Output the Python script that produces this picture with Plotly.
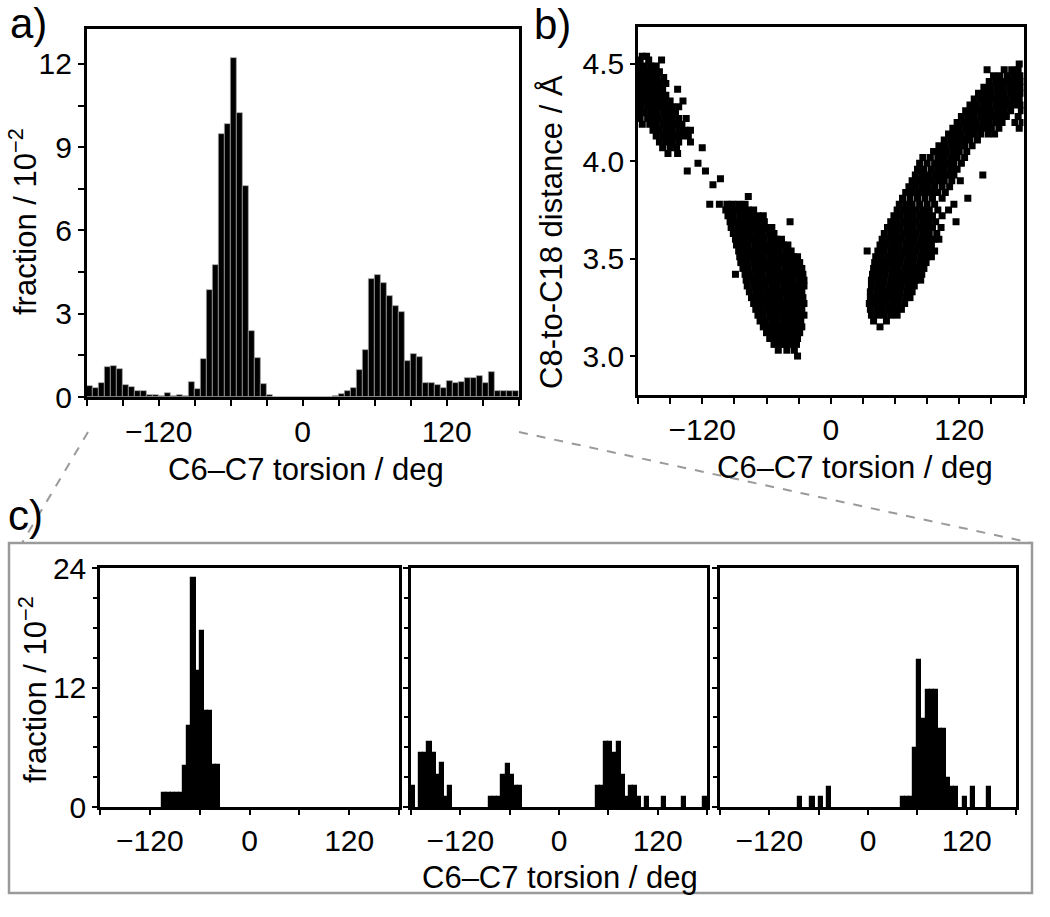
import plotly.graph_objects as go

W, H = 1050, 917
FONT = "Liberation Sans"

# ---------------- Panel a: histogram (5-degree bins) ----------------
a_bin_starts = [-180, -175, -170, -165, -160, -155, -150, -145, -140, -135, -130, -125,
                -120, -115, -110, -105, -100, -95, -90, -85, -80, -75, -70, -65,
                -60, -55, -50, -45, -40, -35, -30, -25, -20, -15, -10, -5,
                0, 5, 10, 15, 20, 25, 30, 35, 40, 45, 50, 55,
                60, 65, 70, 75, 80, 85, 90, 95, 100, 105, 110, 115,
                120, 125, 130, 135, 140, 145, 150, 155, 160, 165, 170, 175]
a_values = [0.40, 0.32, 0.50, 1.08, 1.10, 1.00, 0.45, 0.36, 0.22, 0.20, 0.06, 0.08,
            0.04, 0.14, 0.05, 0.08, 0.02, 0.55, 0.30, 1.36, 3.84, 4.74, 9.47, 9.85,
            12.23, 10.23, 7.60, 2.37, 1.42, 0.46, 0.08, 0.01, 0.0, 0.0, 0.0, 0.0,
            0.0, 0.0, 0.0, 0.0, 0.01, 0.03, 0.10, 0.23, 0.34, 0.97, 1.69, 4.24,
            4.38, 4.10, 3.65, 3.28, 3.07, 1.30, 1.54, 1.43, 0.49, 0.49, 0.45, 0.34,
            0.56, 0.49, 0.53, 0.68, 0.68, 0.74, 0.52, 0.89, 0.21, 0.21, 0.21, 0.21]

# ---------------- Panel b: scatter (distance rows, torsion values) ----------------
cloud_A = [
    (4.54, [-176, -172]),
    (4.52, [-178, -170, -158]),
    (4.49, [-179, -174, -168, -163]),
    (4.46, [-180, -175, -170, -165, -160]),
    (4.43, [-178, -173, -168, -162, -156]),
    (4.40, [-180, -175, -170, -165, -160, -154]),
    (4.37, [-178, -173, -167, -162, -157, -143]),
    (4.34, [-180, -175, -170, -164, -159, -154]),
    (4.31, [-179, -173, -167, -161, -156, -150, -138]),
    (4.28, [-177, -171, -165, -159, -153, -148, -142]),
    (4.25, [-179, -174, -168, -162, -156, -150, -145]),
    (4.22, [-178, -171, -165, -160, -154, -148, -142, -135]),
    (4.19, [-176, -169, -163, -157, -151, -145, -139]),
    (4.16, [-166, -160, -154, -148, -142, -136, -131]),
    (4.13, [-163, -157, -151, -145, -139, -133]),
    (4.10, [-160, -154, -148, -142, -131]),
    (4.07, [-157, -150, -144, -120]),
    (4.04, [-152, -143]),
    (3.99, [-124]),
    (3.95, [-134, -117]),
    (3.91, [-103]),
    (3.88, [-110]),
    (3.82, [-77]),
    (3.78, [-113, -104]),
]
cloud_B = [
    (3.78, [-97, -92, -86, -80]),
    (3.75, [-98, -93, -88, -83, -77, -72]),
    (3.72, [-96, -91, -85, -80, -74, -68, -63]),
    (3.69, [-94, -89, -84, -78, -73, -67, -62, -38]),
    (3.66, [-93, -87, -82, -76, -71, -65, -60, -55]),
    (3.63, [-91, -86, -80, -75, -69, -64, -58, -53]),
    (3.60, [-89, -84, -78, -73, -67, -62, -56, -51, -46]),
    (3.57, [-88, -82, -77, -71, -66, -60, -55, -49, -44, -40]),
    (3.54, [-86, -81, -75, -70, -64, -59, -53, -48, -42, -37]),
    (3.51, [-85, -79, -74, -68, -63, -57, -52, -46, -41, -35, -31]),
    (3.48, [-84, -78, -72, -67, -61, -56, -50, -45, -39, -34, -29]),
    (3.45, [-82, -77, -71, -65, -60, -54, -49, -43, -38, -32, -27]),
    (3.42, [-89, -80, -75, -69, -64, -58, -53, -47, -42, -36, -31, -26]),
    (3.39, [-79, -73, -68, -62, -57, -51, -46, -40, -35, -29, -25]),
    (3.36, [-78, -72, -66, -61, -55, -50, -44, -39, -33, -28, -25]),
    (3.33, [-76, -70, -65, -59, -54, -48, -43, -37, -32, -27]),
    (3.30, [-74, -69, -63, -58, -52, -47, -41, -36, -31, -26]),
    (3.27, [-72, -67, -61, -56, -50, -45, -39, -34, -29, -25]),
    (3.24, [-70, -65, -59, -54, -48, -43, -37, -32, -27]),
    (3.21, [-68, -63, -57, -52, -46, -41, -35, -30, -25]),
    (3.18, [-66, -61, -55, -50, -44, -39, -33, -28]),
    (3.15, [-63, -58, -53, -47, -42, -36, -31, -27]),
    (3.12, [-60, -55, -49, -44, -38, -33, -29]),
    (3.09, [-57, -52, -46, -41, -36, -31]),
    (3.06, [-53, -47, -42, -37, -32]),
    (3.03, [-49, -41, -34]),
    (3.00, [-31]),
]
cloud_C = [
    (3.15, [46]),
    (3.18, [40, 52]),
    (3.21, [38, 44, 50, 56, 62]),
    (3.24, [37, 43, 48, 54, 60, 66]),
    (3.27, [36, 41, 47, 52, 58, 63, 69]),
    (3.30, [37, 42, 48, 53, 59, 64, 70, 74]),
    (3.33, [37, 43, 49, 54, 60, 65, 71, 76]),
    (3.36, [38, 44, 49, 55, 61, 66, 72, 78]),
    (3.39, [38, 44, 50, 56, 62, 67, 73, 79, 84]),
    (3.42, [39, 45, 51, 57, 63, 68, 74, 80, 85]),
    (3.45, [40, 46, 52, 58, 63, 69, 75, 81, 87]),
    (3.48, [41, 47, 53, 59, 65, 71, 77, 83, 89]),
    (3.51, [42, 48, 54, 60, 66, 72, 78, 84, 90, 94]),
    (3.54, [34, 44, 50, 56, 62, 68, 74, 80, 86, 92, 97]),
    (3.57, [46, 52, 58, 64, 70, 76, 82, 88, 94]),
    (3.60, [48, 54, 60, 66, 72, 78, 84, 90, 96, 101]),
    (3.63, [50, 56, 62, 68, 74, 80, 86, 92, 99]),
    (3.66, [53, 59, 65, 71, 77, 83, 89, 95, 103]),
    (3.69, [56, 62, 68, 74, 80, 86, 92, 98, 117]),
    (3.72, [59, 65, 71, 77, 83, 89, 95, 104]),
    (3.75, [62, 68, 74, 80, 86, 92, 100, 110]),
    (3.78, [64, 70, 76, 83, 90, 97, 115]),
    (3.81, [67, 74, 81, 88, 95, 104, 128]),
    (3.84, [70, 76, 82, 88, 94, 100, 107]),
    (3.87, [73, 79, 85, 91, 97, 104, 111]),
    (3.90, [76, 82, 88, 94, 100, 106, 113, 121]),
    (3.93, [79, 85, 91, 97, 103, 109, 115, 142]),
    (3.96, [81, 87, 94, 100, 106, 112, 118]),
    (3.99, [83, 90, 97, 103, 109, 115, 122]),
    (4.02, [86, 93, 100, 106, 112, 118, 125]),
    (4.05, [96, 102, 108, 114, 120, 127]),
    (4.08, [101, 107, 113, 119, 125, 132]),
    (4.11, [106, 112, 118, 124, 130, 137]),
    (4.14, [110, 116, 122, 128, 134, 140, 147, 153]),
    (4.17, [114, 120, 126, 132, 138, 144, 150, 157, 176]),
    (4.20, [118, 124, 130, 136, 142, 148, 154, 160, 172, 179]),
    (4.23, [122, 128, 134, 140, 146, 152, 158, 164, 175]),
    (4.26, [126, 132, 138, 144, 150, 156, 162, 168, 178]),
    (4.29, [130, 136, 142, 148, 154, 160, 166, 172, 178]),
    (4.32, [134, 140, 146, 152, 158, 164, 170, 176]),
    (4.35, [138, 144, 150, 156, 162, 168, 174, 179]),
    (4.38, [143, 149, 155, 161, 167, 173, 178]),
    (4.41, [148, 154, 160, 166, 172, 178]),
    (4.44, [152, 158, 165, 171, 177]),
    (4.47, [146, 162, 169, 175]),
    (4.50, [176]),
]

# ---------------- Panel c: three histograms (bin start, value) ----------------
c1_starts = [-105, -100, -95, -90, -85, -80, -75, -70, -65, -60, -55, -50, -45, -40]
c1_values = [1.4, 1.4, 1.4, 1.4, 1.4, 4.1, 8.1, 23.0, 13.7, 17.7, 9.6, 9.6, 4.2, 4.2]

c2_starts = [-180, -170, -165, -160, -155, -150, -145, -140, -135,
             -85, -80, -75, -70, -65, -60, -55, -50,
             45, 50, 55, 60, 65, 70, 75, 80, 85, 90, 95, 105, 125, 150, 175]
c2_values = [2.1, 5.4, 5.4, 6.5, 5.4, 3.2, 4.4, 1.0, 2.1,
             1.0, 1.0, 1.0, 3.2, 4.3, 3.2, 2.1, 2.1,
             2.1, 2.1, 6.5, 6.5, 5.4, 6.5, 3.2, 1.0, 2.1, 2.1, 1.0, 1.0, 1.0, 1.0, 1.0]

c3_starts = [-85, -70, -60, -50, 40, 45, 50, 55, 60, 65, 70, 75, 80, 85, 90,
             95, 100, 105, 115, 125, 145]
c3_values = [1.0, 1.0, 1.0, 2.0, 1.0, 1.0, 1.0, 5.9, 14.8, 8.8, 11.7, 11.7, 11.7, 7.85, 7.85,
             2.9, 2.0, 2.0, 1.0, 2.0, 2.0]

BIN = 5

def px_x(p):
    return p / W

def px_y(p):
    return 1 - p / H

def flatten(rows):
    xs, ys = [], []
    for yv, xl in rows:
        for xv in xl:
            xs.append(xv)
            ys.append(yv)
    return xs, ys

fig = go.Figure()

fig.add_trace(go.Bar(
    x=[s + BIN / 2 for s in a_bin_starts], y=a_values, width=BIN,
    marker=dict(color="black", line=dict(color="#a8a8a8", width=0.7)),
    xaxis="x", yaxis="y", hoverinfo="skip"))

for rows in (cloud_A, cloud_B, cloud_C):
    sx, sy = flatten(rows)
    fig.add_trace(go.Scatter(
        x=sx, y=sy, mode="markers",
        marker=dict(symbol="square", size=7, color="black", line=dict(width=0)),
        xaxis="x2", yaxis="y2", hoverinfo="skip"))

for i, (st, vals) in enumerate([(c1_starts, c1_values), (c2_starts, c2_values), (c3_starts, c3_values)]):
    fig.add_trace(go.Bar(
        x=[s + BIN / 2 for s in st], y=vals, width=BIN,
        marker=dict(color="black", line=dict(color="black", width=1.2)),
        xaxis="x%d" % (i + 3), yaxis="y%d" % (i + 3), hoverinfo="skip"))

tickfont = dict(family=FONT, size=30, color="black")

def axis(**kw):
    d = dict(showline=True, linecolor="black", linewidth=2.5, mirror=True,
             ticks="outside", ticklen=6, tickwidth=2, tickcolor="black",
             showgrid=False, zeroline=False, tickfont=tickfont, fixedrange=True,
             automargin=False)
    d.update(kw)
    return d

minor_a_x = dict(dtick=30, tick0=0, ticks="outside", ticklen=6, tickwidth=2, tickcolor="black", showgrid=False)

layout = dict(
    width=W, height=H, margin=dict(l=0, r=0, t=0, b=0, pad=0, autoexpand=False),
    paper_bgcolor="white", plot_bgcolor="white", showlegend=False,
    barmode="overlay", bargap=0,
    font=dict(family=FONT, color="black"),
    xaxis=axis(domain=[px_x(86.7), px_x(518.7)], range=[-180, 180], dtick=120, tick0=0,
               minor=minor_a_x, anchor="y"),
    yaxis=axis(domain=[px_y(397), px_y(29)], range=[0, 13.26], dtick=3, tick0=0,
               minor=dict(dtick=1.5, tick0=0, ticks="outside", ticklen=6, tickwidth=2,
                          tickcolor="black", showgrid=False), anchor="x"),
    xaxis2=axis(domain=[px_x(638), px_x(1023.5)], range=[-180, 180], dtick=120, tick0=0,
                minor=minor_a_x, anchor="y2"),
    yaxis2=axis(domain=[px_y(395), px_y(27)], range=[2.8, 4.69],
                tickvals=[3.0, 3.5, 4.0, 4.5], ticktext=["3.0", "3.5", "4.0", "4.5"],
                ticklen=5, anchor="x2"),
)

c_x_dom = [(100, 399), (411, 707), (720, 1016)]
for i, (x0, x1) in enumerate(c_x_dom):
    n = i + 3
    layout["xaxis%d" % n] = axis(domain=[px_x(x0), px_x(x1)], range=[-180, 180], dtick=120, tick0=0,
                                 ticklen=5,
                                 minor=dict(dtick=60, tick0=0, ticks="outside", ticklen=5, tickwidth=2,
                                            tickcolor="black", showgrid=False),
                                 anchor="y%d" % n)
    layout["yaxis%d" % n] = axis(domain=[px_y(807), px_y(568)], range=[0, 24], dtick=12, tick0=0,
                                 ticklen=5, showticklabels=(i == 0),
                                 minor=dict(dtick=3, tick0=0, ticks="outside", ticklen=4, tickwidth=2,
                                            tickcolor="black", showgrid=False),
                                 anchor="x%d" % n)

fig.update_layout(**layout)

title_font = dict(family=FONT, size=31, color="black")
letter_font = dict(family=FONT, size=42, color="black")

def ann(text, x, y, font, angle=0):
    fig.add_annotation(text=text, x=px_x(x), y=px_y(y), xref="paper", yref="paper",
                       xanchor="center", yanchor="middle", showarrow=False,
                       textangle=angle, font=font)

ann("fraction / 10<sup>−2</sup>", 23, 222, title_font, -90)
ann("C6–C7 torsion / deg", 306, 470, title_font)
ann("C8-to-C18 distance / Å", 551, 232, title_font, -90)
ann("C6–C7 torsion / deg", 855, 467, title_font)
ann("fraction / 10<sup>−2</sup>", 33, 690, title_font, -90)
ann("C6–C7 torsion / deg", 560, 877, title_font)
ann("a)", 28, 24, letter_font)
ann("b)", 552, 25, letter_font)
ann("c)", 25, 515, letter_font)

gray = "#9a9a9a"
fig.add_shape(type="rect", xref="paper", yref="paper",
              x0=px_x(9), x1=px_x(1032), y0=px_y(893), y1=px_y(543),
              line=dict(color=gray, width=2.5), fillcolor="rgba(0,0,0,0)", layer="below")
fig.add_shape(type="line", xref="paper", yref="paper",
              x0=px_x(88), y0=px_y(432), x1=px_x(22), y1=px_y(543),
              line=dict(color=gray, width=2, dash="dash"))
fig.add_shape(type="line", xref="paper", yref="paper",
              x0=px_x(519), y0=px_y(432), x1=px_x(1032), y1=px_y(543),
              line=dict(color=gray, width=2, dash="dash"))

fig.write_html("out.html", config={"displayModeBar": False},
               post_script="document.body.style.margin='0';document.documentElement.style.overflow='hidden';document.body.style.overflow='hidden';")
